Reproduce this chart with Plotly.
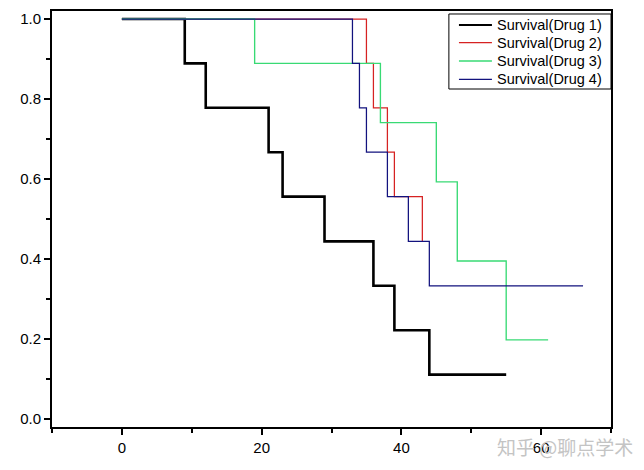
import plotly.graph_objects as go

# Kaplan-Meier style step data
drug1_time = [0, 9, 12, 21, 23, 29, 36, 39, 44, 55]
drug1_surv = [1.0, 0.889, 0.778, 0.667, 0.556, 0.444, 0.333, 0.222, 0.111, 0.111]

drug2_time = [0, 35, 36, 38, 39, 43]
drug2_surv = [1.0, 0.889, 0.778, 0.667, 0.556, 0.444]

drug3_time = [0, 19, 37, 45, 48, 55, 61]
drug3_surv = [1.0, 0.889, 0.741, 0.593, 0.395, 0.198, 0.198]

drug4_time = [0, 33, 34, 35, 38, 41, 44, 66]
drug4_surv = [1.0, 0.889, 0.778, 0.667, 0.556, 0.444, 0.333, 0.333]

series_names = ["Survival(Drug 1)", "Survival(Drug 2)", "Survival(Drug 3)", "Survival(Drug 4)"]
x_tick_vals = [0, 20, 40, 60]
y_tick_vals = [0.0, 0.2, 0.4, 0.6, 0.8, 1.0]

FONT = "Liberation Sans, Arial, sans-serif"

colors = ["#000000", "#D62222", "#38DA74", "#12127E"]
widths = [2.6, 1.25, 1.35, 1.25]
legend_widths = [2.2, 1.2, 1.3, 1.2]

fig = go.Figure()
datasets = [(drug1_time, drug1_surv), (drug2_time, drug2_surv),
            (drug3_time, drug3_surv), (drug4_time, drug4_surv)]
for (t, s), name, col, w in zip(datasets, series_names, colors, widths):
    fig.add_trace(go.Scatter(x=t, y=s, mode="lines", name=name, showlegend=False,
                             line=dict(color=col, width=w, shape="hv")))

axis_common = dict(
    showgrid=False, zeroline=False, showline=True, linecolor="black",
    linewidth=2, mirror=True, ticks="outside", tickcolor="black",
    tickwidth=1.5, ticklen=6, automargin=False,
    tickfont=dict(family=FONT, size=15, color="black"),
)

fig.update_xaxes(range=[-10, 70], tickvals=x_tick_vals,
                 minor=dict(dtick=10, tick0=0, ticks="outside", ticklen=4,
                            tickwidth=1.5, tickcolor="black"),
                 **axis_common)
fig.update_yaxes(range=[-0.02, 1.02], tickvals=y_tick_vals, tickformat=".1f",
                 minor=dict(dtick=0.1, tick0=0, ticks="outside", ticklen=4,
                            tickwidth=1.5, tickcolor="black"),
                 **axis_common)

# page has an 8px body margin, so the figure is sized to fit the window
fig.update_layout(
    width=636, height=462,
    margin=dict(l=44, r=33, t=3, b=43),
    plot_bgcolor="white", paper_bgcolor="white",
    font=dict(family=FONT, size=14, color="black"),
    showlegend=False,
)

# Legend drawn as a boxed key in the upper-right corner
fig.add_shape(type="rect", xref="paper", yref="paper",
              x0=0.710, x1=1.0, y0=0.8125, y1=0.9928,
              line=dict(color="black", width=1), fillcolor="white", layer="above")
row_y = [0.9663, 0.9238, 0.8798, 0.8358]
for name, col, lw, yy in zip(series_names, colors, legend_widths, row_y):
    fig.add_shape(type="line", xref="paper", yref="paper",
                  x0=0.728, x1=0.787, y0=yy, y1=yy,
                  line=dict(color=col, width=lw), layer="above")
    fig.add_annotation(text=name, xref="paper", yref="paper",
                       x=0.7925, y=yy, xanchor="left", yanchor="middle",
                       showarrow=False,
                       font=dict(family=FONT, size=14.5, color="black"))

fig.add_annotation(text="知乎 @聊点学术", xref="paper", yref="paper",
                   x=1.043, y=-0.048, xanchor="right", yanchor="middle",
                   showarrow=False,
                   font=dict(family="Noto Sans CJK SC", size=19, color="#C4C4C4"))

fig.write_html("out.html")
